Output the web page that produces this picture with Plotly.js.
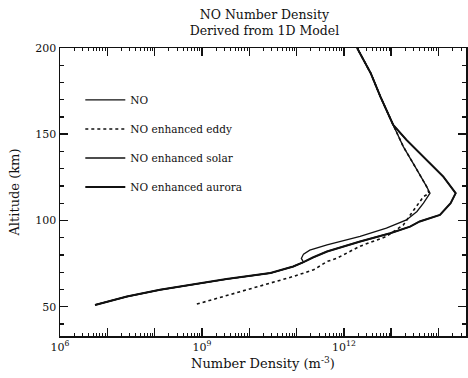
<!DOCTYPE html>
<html><head><meta charset="utf-8">
<script src="https://cdn.plot.ly/plotly-3.0.1.min.js"></script>
<style>html,body{margin:0;padding:0;background:#fff;overflow:hidden}</style>
</head><body>
<div id="chart" style="width:468px;height:378px"></div>
<script>
// Altitudes (km) and NO number densities (m^-3)
const altNO = [51, 55.9, 59.8, 63.1, 66.0, 69.5, 73.3, 75.8, 78.0, 80.5, 82.8, 85.9, 90.7, 95.5, 100.3, 105.2, 110.0, 115.8, 119.6, 129.3, 142.8, 155.4, 171.8, 185.3, 200];
const denNO = [5.5e6, 2.6e7, 1.3e8, 6.6e8, 3.3e9, 2.8e10, 8.5e10, 1.4e11, 1.26e11, 1.4e11, 1.9e11, 4.4e11, 2.2e12, 7.9e12, 2.1e13, 3.5e13, 4.8e13, 6.6e13, 5.6e13, 3.5e13, 1.8e13, 1.1e13, 5.9e12, 3.7e12, 1.9e12];

const altEddy = [51.5, 56.3, 61.7, 67.5, 71.4, 76.2, 78.1, 85.1, 90.7, 97.4, 106.1, 113.8, 115.8, 119.6, 129.3, 142.8, 155.4, 171.8, 185.3, 200];
const denEddy = [7.8e8, 3.3e9, 1.7e10, 8.5e10, 2.3e11, 4.4e11, 7.1e11, 2.2e12, 7.9e12, 1.8e13, 3.0e13, 4.8e13, 6.3e13, 5.6e13, 3.5e13, 1.8e13, 1.1e13, 5.9e12, 3.7e12, 1.9e12];

const altSolar = [51, 55.9, 59.8, 63.1, 66.0, 69.5, 73.3, 75.8, 78.5, 82.0, 87.8, 92.6, 96.4, 99.4, 103.2, 110.0, 115.8, 125.4, 135.1, 146.7, 155.4, 171.8, 185.3, 200];
const denSolar = [5.5e6, 2.6e7, 1.3e8, 6.6e8, 3.3e9, 2.8e10, 8.5e10, 1.4e11, 2.2e11, 4.4e11, 2.2e12, 9.5e12, 2.5e13, 4.0e13, 1.07e14, 1.8e14, 2.3e14, 1.26e14, 5.6e13, 2.1e13, 1.1e13, 5.9e12, 3.7e12, 1.9e12];

const altAurora = [51, 55.9, 59.8, 63.1, 66.0, 69.5, 73.3, 75.8, 78.5, 82.0, 87.8, 92.6, 96.4, 99.4, 103.2, 110.0, 115.8, 125.4, 135.1, 146.7, 155.4, 171.8, 185.3, 200];
const denAurora = [5.5e6, 2.6e7, 1.3e8, 6.6e8, 3.3e9, 2.8e10, 8.5e10, 1.4e11, 2.2e11, 4.4e11, 2.2e12, 9.5e12, 2.5e13, 4.0e13, 1.07e14, 1.8e14, 2.3e14, 1.26e14, 5.6e13, 2.1e13, 1.1e13, 5.9e12, 3.7e12, 1.9e12];

const seriesNames = ['NO', 'NO enhanced eddy', 'NO enhanced solar', 'NO enhanced aurora'];
const xTickVals = [1e6, 1e7, 1e8, 1e9, 1e10, 1e11, 1e12, 1e13, 1e14];
const xTickText = ['10<sup>6</sup>', '', '', '10<sup>9</sup>', '', '', '10<sup>12</sup>', '', ''];
const yTickVals = [50, 100, 150, 200];

const FONT = 'DejaVu Serif, Liberation Serif, serif';
const INK = '#111';

const traces = [
  {x: denNO, y: altNO, name: seriesNames[0], line: {color: INK, width: 1.3}},
  {x: denEddy, y: altEddy, name: seriesNames[1], line: {color: INK, width: 1.6, dash: 'dot'}},
  {x: denSolar, y: altSolar, name: seriesNames[2], line: {color: INK, width: 1.4}},
  {x: denAurora, y: altAurora, name: seriesNames[3], line: {color: INK, width: 2}}
].map((t, i) => Object.assign({type: 'scatter', mode: 'lines', legendgroup: 'g' + i, hoverinfo: 'skip'}, t));

// small tick positions on the log axis (2..9 in each decade)
const xSmall = [];
for (let e = 6; e <= 14; e++) for (let m = 2; m <= 9; m++) xSmall.push(m * Math.pow(10, e));

const layout = {
  width: 468, height: 378,
  margin: {l: 60, r: 2, t: 48, b: 42},
  paper_bgcolor: '#fff', plot_bgcolor: '#fff',
  font: {family: FONT, color: INK, size: 11},
  title: {text: 'NO Number Density<br>Derived from 1D Model', font: {family: FONT, size: 12.5, color: INK},
          x: 0.565, xanchor: 'center', y: 0.95, yanchor: 'top'},
  showlegend: true,
  legend: {x: 0.05, xanchor: 'left', y: 0.87, yanchor: 'top', bgcolor: 'rgba(0,0,0,0)',
           font: {family: FONT, size: 10.5, color: INK}, tracegroupgap: 10, itemwidth: 40},
  xaxis: {type: 'log', range: [6, 14.58], showgrid: false, zeroline: false,
          showline: true, linecolor: INK, linewidth: 1.5, mirror: 'ticks',
          ticks: 'inside', ticklen: 8, tickwidth: 1.5, tickcolor: INK,
          tickmode: 'array', tickvals: xTickVals, ticktext: xTickText,
          tickfont: {family: FONT, size: 11, color: INK},
          minor: {tickmode: 'array', tickvals: xSmall, ticks: 'inside', ticklen: 3, tickcolor: INK, tickwidth: 1},
          title: {text: 'Number Density (m<sup>-3</sup>)', font: {family: FONT, size: 13, color: INK}, standoff: 6}},
  yaxis: {range: [33, 200], showgrid: false, zeroline: false,
          showline: true, linecolor: INK, linewidth: 1.5, mirror: 'ticks',
          ticks: 'inside', ticklen: 8, tickwidth: 1.5, tickcolor: INK,
          tickmode: 'array', tickvals: yTickVals,
          tickfont: {family: FONT, size: 11, color: INK},
          minor: {dtick: 10, ticks: 'inside', ticklen: 4, tickcolor: INK, tickwidth: 1.2},
          title: {text: 'Altitude (km)', font: {family: FONT, size: 13, color: INK}, standoff: 12}}
};

Plotly.newPlot('chart', traces, layout, {staticPlot: true, displayModeBar: false});
</script>
</body></html>
